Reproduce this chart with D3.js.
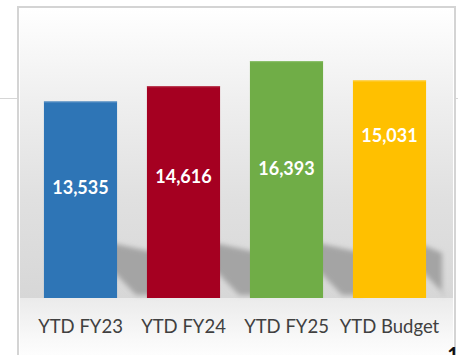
<!DOCTYPE html>
<html>
<head>
<meta charset="utf-8">
<script src="https://cdn.jsdelivr.net/npm/d3@7"></script>
<style>
  html, body { margin: 0; padding: 0; background: #ffffff; }
  svg { display: block; }
</style>
</head>
<body>
<svg id="chart" width="458" height="355"></svg>
<script>
// Year-to-date totals
const categories = ["YTD FY23", "YTD FY24", "YTD FY25", "YTD Budget"];
const values = [13535, 14616, 16393, 15031];
const colors = ["#2E75B6", "#A50021", "#70AD47", "#FFC000"];
const edgeColors = ["#5f95c8", "#b83a50", "#8cc06a", "#ffd24d"];

// value axis runs from a small negative floor, as in the source workbook
const axisMin = -400;
const axisMax = 17000;

// how far below each bar top its value label sits (px)
const labelDrop = [85, 90, 107, 55];

const W = 458, H = 355;
const svg = d3.select("#chart");
const defs = svg.append("defs");

// box
const box = { x: 18, y: 7, w: 437, h: 380 };
const baseY = 298;

const x = d3.scaleBand()
  .domain(categories)
  .range([29, 441])
  .paddingInner(0.29)
  .paddingOuter(0.145);

const y = d3.scaleLinear()
  .domain([axisMin, axisMax])
  .range([baseY, baseY - (axisMax - axisMin) * 0.0141]);

// background gradient of the chart area
const bg = defs.append("linearGradient")
  .attr("id", "bgGrad")
  .attr("gradientUnits", "userSpaceOnUse")
  .attr("x1", 0).attr("y1", box.y).attr("x2", 0).attr("y2", H);
[
  [box.y, "#ffffff"],
  [100, "#efefef"],
  [200, "#e0e0e0"],
  [baseY, "#d7d7d7"],
  [baseY + 0.5, "#ebebeb"],
  [340, "#f9f9f9"],
  [H, "#fdfdfd"]
].forEach(([pos, c]) => {
  bg.append("stop")
    .attr("offset", ((pos - box.y) / (H - box.y)))
    .attr("stop-color", c);
});

const blur = defs.append("filter")
  .attr("id", "soft")
  .attr("x", "-20%").attr("y", "-50%")
  .attr("width", "140%").attr("height", "200%");
blur.append("feGaussianBlur").attr("stdDeviation", 2.8);

// thin guide line crossing behind the box
svg.append("line")
  .attr("x1", 0).attr("x2", W)
  .attr("y1", 98.5).attr("y2", 98.5)
  .attr("stroke", "#d6d6d6").attr("stroke-width", 1);

// chart box
svg.append("rect")
  .attr("x", box.x).attr("y", box.y)
  .attr("width", box.w).attr("height", box.h)
  .attr("fill", "url(#bgGrad)")
  .attr("stroke", "#d4d4d4")
  .attr("stroke-width", 2);
svg.append("rect")
  .attr("x", box.x + 1.5).attr("y", box.y + 1.5)
  .attr("width", box.w - 3).attr("height", box.h - 3)
  .attr("fill", "none")
  .attr("stroke", "#ffffff")
  .attr("stroke-width", 1);

// soft cast shadows behind the bars
const shadow = svg.append("g")
  .attr("filter", "url(#soft)")
  .attr("fill", "#a4a4a4");

categories.forEach((c, i) => {
  const x1 = x(c) + x.bandwidth();
  const last = i === categories.length - 1;
  const xr = last ? x1 + 16 : x(categories[i + 1]) + 10;
  const topL = baseY - 56, topR = baseY - 45;
  const pts = [
    [x1 - 10, topL],
    [xr, topR],
    [xr, baseY - 3],
    [x1 + 19, baseY - 3],
    [x1 - 10, baseY - 33]
  ];
  shadow.append("polygon")
    .attr("points", pts.map(p => p.join(",")).join(" "));
});

// bars
svg.append("g")
  .selectAll("rect")
  .data(values)
  .join("rect")
  .attr("x", (d, i) => x(categories[i]))
  .attr("y", d => y(d))
  .attr("width", x.bandwidth())
  .attr("height", d => y(axisMin) - y(d))
  .attr("fill", (d, i) => colors[i]);

// light top edge on each bar
svg.append("g")
  .selectAll("line")
  .data(values)
  .join("line")
  .attr("x1", (d, i) => x(categories[i]))
  .attr("x2", (d, i) => x(categories[i]) + x.bandwidth())
  .attr("y1", d => y(d) + 0.5)
  .attr("y2", d => y(d) + 0.5)
  .attr("stroke", (d, i) => edgeColors[i])
  .attr("stroke-width", 1);

// value labels
const fmt = d3.format(",");
svg.append("g")
  .selectAll("text")
  .data(values)
  .join("text")
  .attr("x", (d, i) => x(categories[i]) + x.bandwidth() / 2)
  .attr("y", (d, i) => y(d) + labelDrop[i] + 7)
  .attr("text-anchor", "middle")
  .attr("font-family", "Lato, 'Open Sans', sans-serif")
  .attr("font-weight", 700)
  .attr("font-size", 18)
  .attr("fill", "#ffffff")
  .text(d => fmt(d));

// category axis labels
const xAxis = d3.axisBottom(x).tickSize(0).tickPadding(0);
const gx = svg.append("g")
  .attr("transform", `translate(0,${baseY})`)
  .call(xAxis);
gx.select(".domain").remove();
gx.selectAll("text")
  .attr("dy", 0)
  .attr("y", 35)
  .attr("font-family", "Lato, 'Open Sans', sans-serif")
  .attr("font-size", 18.5)
  .attr("fill", "#404040");

// page number peeking in at the corner
svg.append("text")
  .attr("x", 453)
  .attr("y", 362)
  .attr("text-anchor", "middle")
  .attr("font-family", "Lato, sans-serif")
  .attr("font-weight", 700)
  .attr("font-size", 20)
  .attr("fill", "#111111")
  .text("1");
</script>
</body>
</html>
